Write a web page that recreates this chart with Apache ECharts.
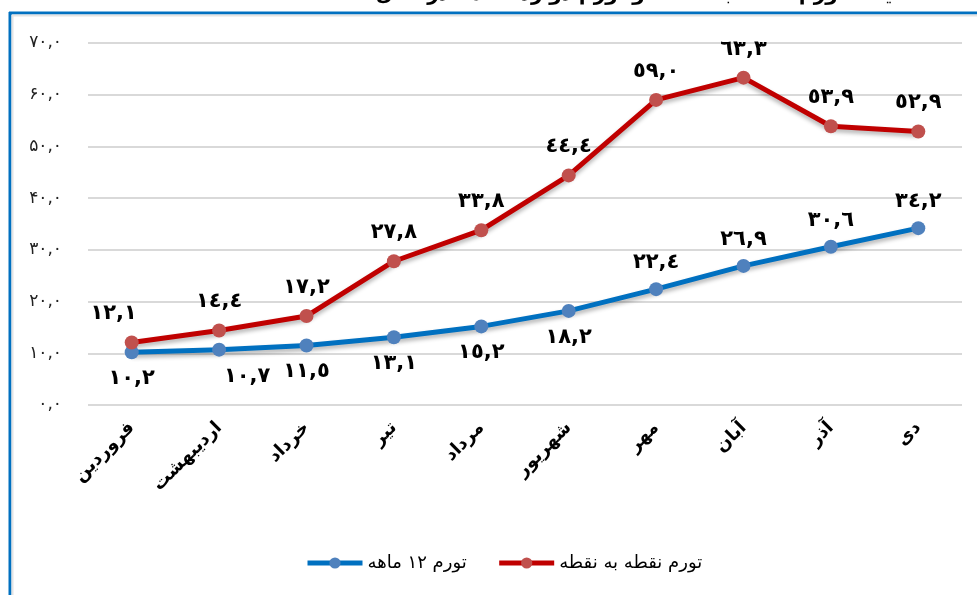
<!DOCTYPE html>
<html>
<head>
<meta charset="utf-8">
<script src="https://cdn.jsdelivr.net/npm/echarts@6/dist/echarts.min.js"></script>
<style>
html,body{margin:0;padding:0;background:#fff;}
#inflationLine{width:977px;height:595px;}
</style>
</head>
<body>
<div id="inflationLine"></div>
<script>
// ماه ها
const months = ['فروردین','اردیبهشت','خرداد','تیر','مرداد','شهریور','مهر','آبان','آذر','دی'];
// تورم ۱۲ ماهه
const yearly = [10.2, 10.7, 11.5, 13.1, 15.2, 18.2, 22.4, 26.9, 30.6, 34.2];
// تورم نقطه به نقطه
const pointToPoint = [12.1, 14.4, 17.2, 27.8, 33.8, 44.4, 59.0, 63.3, 53.9, 52.9];
const yTickLabels = ['۰,۰','۱۰,۰','۲۰,۰','۳۰,۰','۴۰,۰','۵۰,۰','۶۰,۰','۷۰,۰'];

const arDigits = '٠١٢٣٤٥٦٧٨٩';
function toArabicNum(v){
  return v.toFixed(1).replace(/\d/g, d => arDigits[+d]).replace('.', ',');
}

var labelStyle = {
  show: true,
  color: '#000',
  fontSize: 21,
  fontWeight: 'bold',
  fontFamily: 'DejaVu Sans',
  formatter: function(p){ return toArabicNum(p.value); }
}

// برچسب های آبی: شش ماه اول پایین، بقیه بالا
var yearlyData = yearly.map(function(v, i){
  var item = {value: v, label: {position: i < 6 ? 'bottom' : 'top', distance: 9}};
  if(i === 1) item.label.offset = [28, 0];
  return item;
});
var ptpData = pointToPoint.map(function(v, i){
  var item = {value: v};
  if(i === 0) item.label = {offset: [-18, 0]};
  return item;
});

var myChart = echarts.init(document.getElementById('inflationLine'));
myChart.setOption({
  animation: false,
  title: {
    text: 'مقایسه تورم نقطه به نقطه و تورم دوازده ماهه در سال ۱۴۰۰',
    left: 315,
    top: -20,
    textStyle: {fontSize: 20, fontWeight: 'bold', color: '#000', fontFamily: 'DejaVu Sans'}
  },
  graphic: [
    {type: 'line', shape: {x1: 9, y1: 13, x2: 977, y2: 13}, style: {stroke: '#0070C0', lineWidth: 3}},
    {type: 'line', shape: {x1: 10, y1: 12, x2: 10, y2: 595}, style: {stroke: '#0070C0', lineWidth: 3}},
    {type: 'line', shape: {x1: 12, y1: 15.5, x2: 977, y2: 15.5}, style: {stroke: '#E4E4E4', lineWidth: 2}},
    {type: 'line', shape: {x1: 12.5, y1: 15, x2: 12.5, y2: 595}, style: {stroke: '#E4E4E4', lineWidth: 2}}
  ],
  grid: {left: 88, right: 15, top: 43, bottom: 190},
  legend: {
    data: ['تورم ۱۲ ماهه', 'تورم نقطه به نقطه'],
    left: 300,
    top: 549,
    itemWidth: 55,
    itemHeight: 14,
    itemGap: 30,
    lineStyle: {width: 5},
    textStyle: {fontSize: 18, color: '#000', fontFamily: 'DejaVu Sans'}
  },
  xAxis: {
    type: 'category',
    data: months,
    boundaryGap: true,
    axisLine: {show: false},
    axisTick: {show: false},
    axisLabel: {
      rotate: 45,
      margin: 20,
      interval: 0,
      color: '#000',
      fontSize: 18,
      fontWeight: 'bold',
      fontFamily: 'DejaVu Sans'
    }
  },
  yAxis: {
    type: 'value',
    min: 0,
    max: 70,
    interval: 10,
    axisLine: {show: false},
    axisTick: {show: false},
    splitLine: {lineStyle: {color: '#D9D9D9', width: 2}},
    axisLabel: {
      margin: 26,
      color: '#222',
      fontSize: 17,
      fontFamily: 'DejaVu Sans',
      formatter: function(v){ return yTickLabels[Math.round(v / 10)]; }
    }
  },
  series: [
    {
      name: 'تورم ۱۲ ماهه',
      type: 'line',
      data: yearlyData,
      symbol: 'circle',
      symbolSize: 14,
      lineStyle: {color: '#0070C0', width: 5, shadowColor: 'rgba(0,0,0,0.3)', shadowBlur: 4, shadowOffsetY: 3},
      itemStyle: {color: '#4F81BD'},
      label: labelStyle
    },
    {
      name: 'تورم نقطه به نقطه',
      type: 'line',
      data: ptpData,
      symbol: 'circle',
      symbolSize: 14,
      lineStyle: {color: '#C00000', width: 5, shadowColor: 'rgba(0,0,0,0.3)', shadowBlur: 4, shadowOffsetY: 3},
      itemStyle: {color: '#C0504D'},
      label: Object.assign({}, labelStyle, {position: 'top', distance: 11})
    }
  ]
})
</script>
</body>
</html>
